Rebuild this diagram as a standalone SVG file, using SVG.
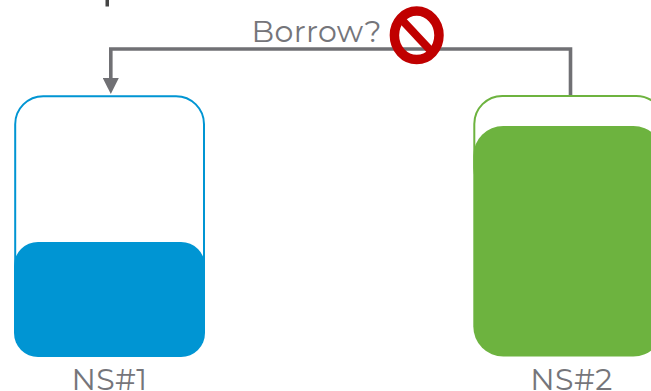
<svg xmlns="http://www.w3.org/2000/svg" width="651" height="391" viewBox="0 0 651 391">
<defs>
<style>
text{font-family:"Montserrat","Lato","Liberation Sans",sans-serif;fill:#75757a;font-size:30px;letter-spacing:.4px}
.line{fill:none;stroke:#707074;stroke-width:3.600}
.outline{fill:#fff;stroke-width:2}
</style>
<marker id="arrow" markerUnits="userSpaceOnUse" markerWidth="16" markerHeight="16" refX="0" refY="8" orient="auto"><path d="M0 0L16 8L0 16Z" fill="#707074"/></marker>
</defs>
<rect width="651" height="391" fill="#fff"/>
<rect x="105.500" y="0" width="3.500" height="6.500" fill="#444"/>
<g id="connectors">
<path class="line" d="M570.500 97V49H110.800V78" marker-end="url(#arrow)"/>
</g>
<g id="ns1">
<rect class="outline" x="15.200" y="96.200" width="188.800" height="240" rx="28" stroke="#0095d3"/>
<rect x="14" y="242" width="191" height="115" rx="24" fill="#0095d3"/>
<text x="109.500" y="390" text-anchor="middle">NS#1</text>
</g>
<g id="ns2">
<rect class="outline" x="474.300" y="95.900" width="190" height="100" rx="28" stroke="#6db33f"/>
<rect x="473.300" y="126" width="190" height="230.500" rx="30" fill="#6db33f"/>
<text x="571.500" y="390" text-anchor="middle">NS#2</text>
</g>
<g id="borrow">
<text x="251.500" y="42">Borrow?</text>
<ellipse cx="416.700" cy="35.300" rx="22.300" ry="24.200" fill="none" stroke="#c00000" stroke-width="9.500"/>
<path d="M402 20L431 51" stroke="#c00000" stroke-width="8" fill="none"/>
</g>
</svg>
